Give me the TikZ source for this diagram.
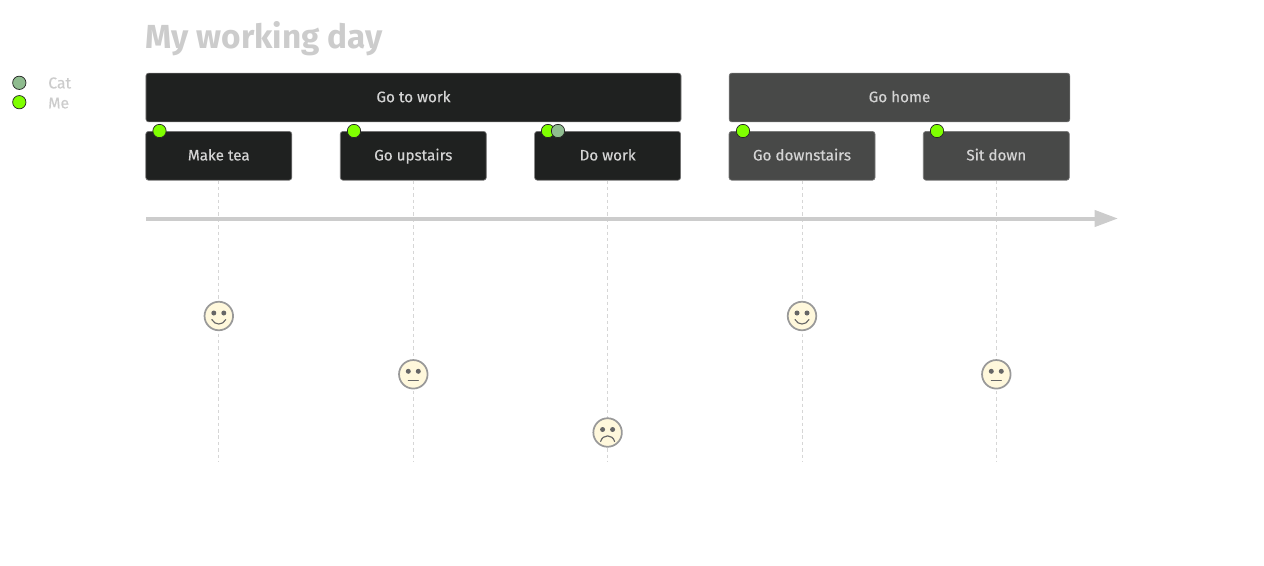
\documentclass[tikz,border=0pt]{standalone}
\usepackage{fontspec}
\setmainfont{Fira Sans}
\newfontfamily\medfont{Fira Sans}[FakeBold=0.3]
\usetikzlibrary{arrows.meta,calc}
\definecolor{darkbox}{HTML}{1F2120}
\definecolor{greybox}{HTML}{484948}
\definecolor{boxedge}{HTML}{777777}
\definecolor{lighttxt}{HTML}{CCCCCC}
\definecolor{boxtxt}{HTML}{D4D4D4}
\definecolor{me}{HTML}{7FFF00}
\definecolor{cat}{HTML}{8FBC8F}
\definecolor{face}{HTML}{FFF8DC}
\definecolor{faceedge}{HTML}{999999}
\definecolor{feat}{HTML}{666666}
\tikzset{
  x=0.75pt,y=-0.75pt,
  taskbox/.style={draw=boxedge,line width=0.5pt,rounded corners=2pt,inner sep=0pt,text=boxtxt,
     minimum height=36.6pt,text height=8pt,text depth=1pt,font=\medfont\fontsize{11.4pt}{12pt}\selectfont},
  dot/.style={circle,draw=black!85,line width=0.55pt,inner sep=0pt,minimum size=10pt},
  legendtxt/.style={anchor=west,inner sep=0pt,text=lighttxt,text height=8pt,text depth=1.4pt,font=\medfont\fontsize{11.8pt}{12pt}\selectfont},
  drop/.style={draw=lighttxt!80,line width=0.7pt,dash pattern=on 2.6pt off 2.18pt},
  facecirc/.style={circle,draw=faceedge,fill=face,line width=1.3pt,inner sep=0pt,minimum size=21.4pt},
  feature/.style={draw=feat,line width=0.85pt,line cap=round},
  eye/.style={fill=feat,draw=none}
}
\newcommand{\eyes}[1]{%
  \fill[eye] ($(#1)+(-5,-3)$) circle (2.5);
  \fill[eye] ($(#1)+(5,-3)$) circle (2.5);}
\begin{document}
\begin{tikzpicture}
\useasboundingbox (0,0) rectangle (1264,565);
\node[anchor=west,inner sep=0pt,text=lighttxt,font=\fontsize{25pt}{28pt}\selectfont\bfseries] (title) at (145,39) {My working day};
\node[dot,fill=cat] (lcat) at (19.3,82.8) {};
\node[dot,fill=me] (lme) at (19.3,102.2) {};
\node[legendtxt] (tcat) at (48,84) {Cat};
\node[legendtxt] (tme) at (48,104) {Me};
\node[taskbox,fill=darkbox,minimum width=401.3pt] (s1) at (413.5,97.5) {Go to work};
\node[taskbox,fill=greybox,minimum width=255.5pt] (s2) at (899.5,97.5) {Go home};
\node[taskbox,fill=darkbox,minimum width=109.5pt] (t1) at (218.8,155.8) {Make tea};
\node[taskbox,fill=darkbox,minimum width=109.5pt] (t2) at (413.3,155.8) {Go upstairs};
\node[taskbox,fill=darkbox,minimum width=109.5pt] (t3) at (607.6,155.8) {Do work};
\node[taskbox,fill=greybox,minimum width=109.5pt] (t4) at (802,155.8) {Go downstairs};
\node[taskbox,fill=greybox,minimum width=109.5pt] (t5) at (996.3,155.8) {Sit down};
\coordinate (e1) at (218.8,462);
\coordinate (e2) at (413.3,462);
\coordinate (e3) at (607.6,462);
\coordinate (e4) at (802,462);
\coordinate (e5) at (996.3,462);
\foreach \i in {1,...,5} \draw[drop] (t\i.south) -- (e\i);
\coordinate (axs) at (146,218.5);
\coordinate (axe) at (1118,218.5);
\draw[lighttxt,line width=3pt,-{Triangle[length=17.5pt,width=12pt,sep=0pt]}] (axs) -- (axe);
\node[dot,fill=me] (d1) at (159.5,131) {};
\node[dot,fill=me] (d2) at (354,131) {};
\node[dot,fill=me] (d3) at (548,131) {};
\node[dot,fill=cat] (d3b) at (558,131) {};
\node[dot,fill=me] (d4) at (743,131) {};
\node[dot,fill=me] (d5) at (937,131) {};
% faces
\node[facecirc] (f1) at (218.8,316) {};
\eyes{f1}
\draw[feature] ($(f1)+(-7,3.5)$) .. controls ($(f1)+(-4,9.5)$) and ($(f1)+(4,9.5)$) .. ($(f1)+(7,3.5)$);
\node[facecirc] (f2) at (413.3,374.3) {};
\eyes{f2}
\draw[feature] ($(f2)+(-5,6)$) -- ($(f2)+(5,6)$);
\node[facecirc] (f3) at (607.6,432.5) {};
\eyes{f3}
\draw[feature] ($(f3)+(-7,9)$) .. controls ($(f3)+(-5,1.5)$) and ($(f3)+(5,1.5)$) .. ($(f3)+(7,9)$);
\node[facecirc] (f4) at (802,316) {};
\eyes{f4}
\draw[feature] ($(f4)+(-7,3.5)$) .. controls ($(f4)+(-4,9.5)$) and ($(f4)+(4,9.5)$) .. ($(f4)+(7,3.5)$);
\node[facecirc] (f5) at (996.3,374.3) {};
\eyes{f5}
\draw[feature] ($(f5)+(-5,6)$) -- ($(f5)+(5,6)$);
\end{tikzpicture}
\end{document}
